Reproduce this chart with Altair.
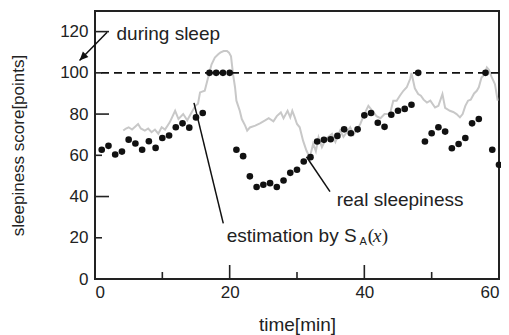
import altair as alt
import pandas as pd

# estimation by S_A(x) (black dots), one per minute
est_t = list(range(1, 61))
est_y = [62.7, 64.6, 60.4, 61.8, 67.6, 65.7, 62.7, 66.8, 63.6, 68.4,
         69.6, 73.6, 75.5, 73.4, 78.4, 80.5, 100, 100, 100, 100,
         62.7, 59.6, 49.8, 44.6, 45.7, 46.5, 44.6, 47.8, 51.5, 53.0,
         57.0, 59.1, 66.7, 67.5, 67.8, 69.4, 72.6, 70.7, 72.6, 79.4,
         80.5, 75.8, 73.8, 79.7, 81.6, 82.5, 84.5, 100, 66.7, 70.7,
         73.6, 71.5, 63.4, 65.5, 68.4, 75.5, 77.6, 100, 62.7, 55.4]

# real sleepiness (gray line)
real_t = [4.2, 4.6, 5.0, 5.5, 6.0, 6.4, 6.8, 7.4, 7.9, 8.4, 8.9, 9.4, 9.9, 10.4,
          11.1, 11.9, 12.4, 13.1, 13.7, 14.3, 14.9, 15.3, 15.6, 16.3, 16.8, 17.3,
          17.8, 18.3, 18.6, 19.1, 19.6, 19.9, 20.2, 20.5, 20.8, 21.0, 21.5, 21.8,
          22.3, 22.6, 23.0, 23.8, 24.5, 25.2, 25.8, 26.5, 27.0, 27.6, 28.0, 28.6,
          29.0, 29.3, 29.6, 30.0, 30.4, 30.9, 31.4, 31.9, 32.4, 32.8, 33.2, 33.7,
          34.3, 35.2, 35.7, 36.4, 36.9, 37.9, 38.4, 39.4, 40.0, 40.6, 41.2, 41.8,
          42.4, 43.0, 43.8, 44.3, 44.8, 45.3, 45.8, 46.3, 46.8, 47.0, 47.5, 48.0,
          48.4, 48.8, 49.3, 49.8, 50.5, 51.0, 51.6, 52.0, 52.7, 53.2, 53.7, 54.2,
          54.6, 55.0, 55.4, 55.8, 56.3, 56.7, 57.0, 57.4, 57.8, 58.2, 58.5, 58.9,
          59.4, 59.8]
real_y = [72.0, 73.0, 73.6, 72.5, 74.0, 75.2, 73.0, 72.0, 73.0, 71.2, 72.5, 70.5, 73.6, 72.5,
          76.0, 81.6, 77.6, 80.0, 77.0, 80.5, 84.0, 85.0, 90.5, 91.3, 97.7, 104.0,
          107.4, 109.0, 109.8, 110.6, 110.6, 109.8, 108.0, 99.4, 92.9, 86.5, 81.6, 77.6,
          74.4, 72.0, 73.5, 74.4, 75.5, 76.8, 78.0, 76.5, 79.0, 80.8, 78.0, 81.6,
          78.4, 81.6, 79.0, 75.2, 73.6, 67.1, 62.3, 59.0, 65.6, 62.0, 68.7, 64.0,
          68.0, 70.4, 66.5, 72.0, 69.0, 73.6, 70.0, 75.2, 80.0, 84.0, 81.6, 79.0,
          78.0, 80.0, 80.0, 86.5, 86.5, 89.0, 91.3, 93.0, 97.0, 100.0, 92.5, 89.7,
          88.9, 87.0, 85.6, 86.5, 83.2, 84.0, 89.7, 83.0, 81.6, 81.0, 80.0, 78.4,
          80.0, 84.0, 86.5, 87.0, 90.0, 91.3, 93.0, 97.7, 99.0, 102.6, 101.5, 98.0,
          94.5, 86.5]

x_labels = [0, 20, 40, 60]
y_labels = [0, 20, 40, 60, 80, 100, 120]
x_long_ticks = [0, 20, 40, 60]
x_short_ticks = [10, 30, 50]
y_long_ticks = [0, 40, 80, 120]
y_short_ticks = [20, 60, 100]

sleep_level = [100]

# annotations (data coordinates)
during_text = {"t": [3.2], "y": [119.0], "label": ["during sleep"]}
during_line = {"t": [1.8], "y": [119.7], "t2": [-2.3], "y2": [106.0]}
real_text = {"t": [35.9], "y": [38.3], "label": ["real sleepiness"]}
real_line = {"t": [31.4], "y": [59.3], "t2": [34.9], "y2": [42.4]}
est_text = {"t": [19.56], "y": [20.8], "label": ["estimation by S"]}
est_sub = {"t": [39.3], "y": [18.0], "label": ["A"]}
est_lpar = {"t": [40.5], "y": [20.8], "label": ["("]}
est_var = {"t": [41.3], "y": [20.8], "label": ["x"]}
est_rpar = {"t": [42.6], "y": [20.8], "label": [")"]}
est_line = {"t": [14.7], "y": [85.4], "t2": [19.05], "y2": [27.0]}

FONT = "Liberation Sans"
W, H = 404, 268

xs = alt.Scale(domain=[0, 60], nice=False)
ys = alt.Scale(domain=[0, 130], nice=False)

dots_df = pd.DataFrame({"t": est_t, "y": est_y})
real_df = pd.DataFrame({"t": real_t, "y": real_y})

x_enc = alt.X("t:Q", scale=xs, axis=alt.Axis(
    values=x_labels, ticks=False, domain=False, grid=False,
    labelFontSize=17, labelFont=FONT, labelColor="#222", labelPadding=5,
    title="time[min]", titleFont=FONT, titleFontSize=19, titleFontWeight="normal",
    titleColor="#222", titleBaseline="middle", titleY=45))
y_enc = alt.Y("y:Q", scale=ys, axis=alt.Axis(
    values=y_labels, ticks=False, domain=False, grid=False,
    labelFontSize=17, labelFont=FONT, labelColor="#222", labelPadding=7,
    title="sleepiness score[points]", titleFont=FONT, titleFontSize=17,
    titleFontWeight="normal", titleColor="#222", titleBaseline="middle",
    titleX=-77, titleY=134))

real_line_layer = alt.Chart(real_df).mark_line(color="#c8c8c8", strokeWidth=2).encode(
    x=x_enc, y=y_enc)

dots = alt.Chart(dots_df).mark_circle(color="#111", size=44, opacity=1).encode(
    x="t:Q", y="y:Q")

dashed = alt.Chart(pd.DataFrame({"y": sleep_level})).mark_rule(
    color="#111", strokeWidth=1.6, strokeDash=[8, 5]).encode(y="y:Q")

def ticks_x(vals, length):
    return alt.Chart(pd.DataFrame({"t": vals})).mark_rule(color="#222", strokeWidth=1.6).encode(
        x="t:Q", y=alt.value(H), y2=alt.value(H - length))

def ticks_y(vals, length):
    return alt.Chart(pd.DataFrame({"y": vals})).mark_rule(color="#222", strokeWidth=1.6).encode(
        y="y:Q", x=alt.value(0), x2=alt.value(length))

def seg(d):
    return alt.Chart(pd.DataFrame(d)).mark_rule(color="#111", strokeWidth=1.5).encode(
        x="t:Q", y="y:Q", x2="t2:Q", y2="y2:Q")

def txt(d, size=19, font=FONT, **kw):
    return alt.Chart(pd.DataFrame(d)).mark_text(
        align="left", baseline="middle", font=font, fontSize=size, color="#222", **kw
    ).encode(x="t:Q", y="y:Q", text="label:N")

arrow = alt.Chart(pd.DataFrame({"t": [during_line["t2"][0]], "y": [during_line["y2"][0]]})).mark_point(
    shape="M0,0 L-0.45,1 L0.45,1 Z", filled=True, color="#111", opacity=1,
    size=300, angle=225).encode(x="t:Q", y="y:Q")

chart = alt.layer(
    real_line_layer, dashed, dots,
    ticks_x(x_long_ticks, 14), ticks_x(x_short_ticks, 7),
    ticks_y(y_long_ticks, 14), ticks_y(y_short_ticks, 7),
    seg(during_line), seg(real_line), seg(est_line), arrow,
    txt(during_text), txt(real_text), txt(est_text),
    txt(est_sub, size=11),
    txt(est_lpar, size=19, font="Liberation Serif"),
    txt(est_var, size=19, font="Liberation Serif", fontStyle="italic"),
    txt(est_rpar, size=19, font="Liberation Serif"),
).properties(
    width=W, height=H,
    autosize=alt.AutoSizeParams(type="none"),
    padding={"left": 87, "top": 3, "right": 2, "bottom": 56},
    background="white",
).configure_view(stroke="#222", strokeWidth=2)

chart.save("out.html", embed_options={"renderer": "svg", "actions": False})
